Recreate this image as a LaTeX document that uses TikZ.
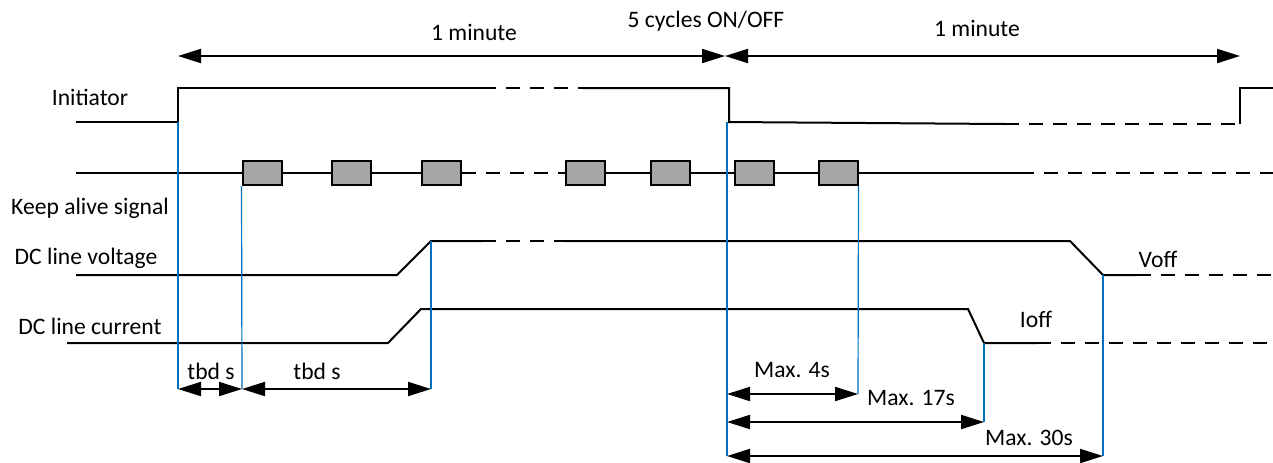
\documentclass[tikz,border=0pt]{standalone}
\usepackage{fontspec}
\setmainfont{Carlito}
\usetikzlibrary{arrows.meta}
\definecolor{tickblue}{HTML}{0070C0}
\definecolor{pulsegray}{HTML}{A6A6A6}
\tikzset{
  sig/.style={line width=1pt},
  gapline/.style={line width=1pt,dash pattern=on 7pt off 5pt},
  tickline/.style={draw=tickblue,line width=0.6pt},
  span/.style={line width=1pt,{Triangle[length=11.5pt,width=7pt]}-{Triangle[length=11.5pt,width=7pt]}},
  pulsebox/.style={draw,fill=pulsegray,line width=1pt,minimum width=19.5pt,minimum height=12pt,inner sep=0pt},
  lbl/.style={font=\fontsize{11.8}{13}\selectfont,inner sep=0pt}
}
\begin{document}
\begin{tikzpicture}[x=0.5pt,y=-0.5pt]
  \useasboundingbox (0,0) rectangle (1273,462);

  % time marks
  \coordinate (ton) at (178,122);
  \coordinate (toff) at (727,122);
  \coordinate (vup) at (431,241);
  \coordinate (idown) at (984,343);
  \coordinate (vdown) at (1103,275);
  \coordinate (mid) at (725,56);

  % top spans
  \node[lbl] (min1) at (474,32) {1 minute};
  \node[lbl] (cyc) at (706,21) {5 cycles ON/OFF};
  \node[lbl] (min2) at (977,28) {1 minute};
  \draw[span] (178,56) -- (mid);
  \draw[span] (mid) -- (1240,56);

  % signal names
  \node[lbl] (init) at (90,97) {Initiator};
  \node[lbl] (keep) at (90,208) {Keep alive signal};
  \node[lbl] (volt) at (86,258) {DC line voltage};
  \node[lbl] (curr) at (90,326) {DC line current};
  \node[lbl] (voff) at (1158,259) {Voff};
  \node[lbl] (ioff) at (1036,319) {Ioff};

  % initiator
  \draw[sig] (76,122) -- (ton) -- (178,88) -- (482,88);
  \draw[gapline] (482,88) -- (583,88);
  \draw[sig] (583,88) -- (729,88) -- (729,122) -- (1005,124);
  \draw[gapline] (1005,124) -- (1240,124);
  \draw[sig] (1240,124) -- (1240,88) -- (1273,88);

  % keep alive pulses
  \foreach \x [count=\i] in {262,351,441,585,670,754,838}
    \node[pulsebox] (k\i) at (\x,173) {};
  \draw[sig] (76,173) -- (k1.west) (k1.east) -- (k2.west) (k2.east) -- (k3.west);
  \draw[gapline] (k3.east) -- (k4.west);
  \draw[sig] (k4.east) -- (k5.west) (k5.east) -- (k6.west) (k6.east) -- (k7.west);
  \draw[sig] (k7.east) -- (1020,173);
  \draw[gapline] (1020,173) -- (1273,173);

  % DC line voltage
  \draw[sig] (76,275) -- (397,275) -- (vup) -- (482,241);
  \draw[gapline] (482,241) -- (565,241);
  \draw[sig] (565,241) -- (1070,241) -- (vdown) -- (1137,275);
  \draw[gapline] (1137,275) -- (1273,275);

  % DC line current
  \draw[sig] (67,343) -- (388,343) -- (421,309) -- (968,309) -- (idown) -- (1037,343);
  \draw[gapline] (1037,343) -- (1273,343);

  % blue marks
  \coordinate (b1) at (178,389);
  \coordinate (b2) at (242,389);
  \coordinate (b3) at (431,389);
  \coordinate (b4) at (858,394);
  \coordinate (b5) at (984,422);
  \coordinate (b6) at (1103,456);
  \coordinate (b7) at (727,456);
  \draw[tickline] (ton) -- (b1);
  \draw[tickline] (k1.south west) -- (b2);
  \draw[tickline] (vup) -- (b3);
  \draw[tickline] (k7.south east) -- (b4);
  \draw[tickline] (idown) -- (b5);
  \draw[tickline] (vdown) -- (b6);
  \draw[tickline] (toff) -- (b7);

  % bottom spans
  \draw[span] (b1) -- (b2);
  \draw[span] (b2) -- (b3);
  \draw[span] (727,394) -- (b4);
  \draw[span] (727,422) -- (b5);
  \draw[span] (b7) -- (b6);
  \node[lbl] (tbd1) at (211,371) {tbd s};
  \node[lbl] (tbd2) at (317,371) {tbd s};
  \node[lbl] (max4) at (792,370) {Max. 4s};
  \node[lbl] (max17) at (911,398) {Max. 17s};
  \node[lbl] (max30) at (1029,438) {Max. 30s};
\end{tikzpicture}
\end{document}
